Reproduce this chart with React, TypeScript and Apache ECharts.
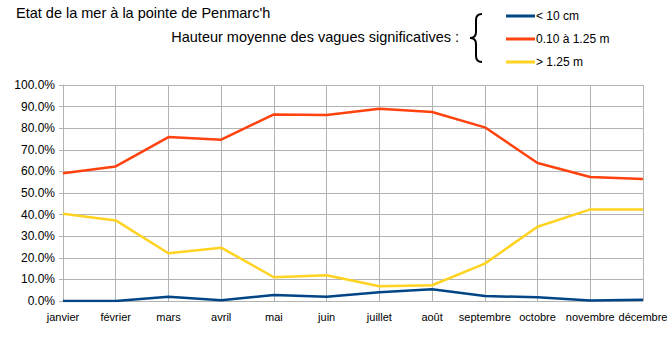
import React, { useEffect, useRef } from "react";
import * as echarts from "echarts";

const months = ["janvier", "février", "mars", "avril", "mai", "juin", "juillet", "août", "septembre", "octobre", "novembre", "décembre"];
const lowWaves = [0.0, 0.0, 2.0, 0.3, 2.8, 2.0, 4.0, 5.4, 2.3, 1.7, 0.2, 0.6];
const midWaves = [59.1, 62.3, 75.9, 74.7, 86.4, 86.1, 89.0, 87.5, 80.4, 63.9, 57.4, 56.5];
const highWaves = [40.4, 37.3, 22.1, 24.7, 11.0, 11.9, 6.8, 7.3, 17.3, 34.4, 42.4, 42.4];
const seriesNames = ["< 10 cm", "0.10 à 1.25 m", "> 1.25 m"];
const colors = ["#004586", "#ff420e", "#ffd320"];

const FONT = "'Liberation Sans', Arial, sans-serif";

export default function App() {
  const ref = useRef<HTMLDivElement>(null);
  useEffect(() => {
    if (!ref.current) return;
    echarts.graphic.registerShape(
      "brace",
      echarts.graphic.extendPath(
        "M12,0 C8,0 6,2 6,6 L6,18 C6,22 4,24 0,24 C4,24 6,26 6,30 L6,42 C6,46 8,48 12,48",
        {}
      )
    );
    const chart = echarts.init(ref.current, null, { renderer: "svg" });
    const data = [lowWaves, midWaves, highWaves];
    chart.setOption({
      animation: false,
      backgroundColor: "#ffffff",
      textStyle: { fontFamily: FONT, color: "#000" },
      title: [
        {
          text: "Etat de la mer à la pointe de Penmarc'h",
          left: 16,
          top: 5,
          padding: 0,
          textStyle: { fontSize: 14.5, fontWeight: "normal", color: "#000", fontFamily: FONT },
        },
        {
          text: "Hauteur moyenne des vagues significatives :",
          right: 213,
          top: 29,
          padding: 0,
          textStyle: { fontSize: 14.5, fontWeight: "normal", color: "#000", fontFamily: FONT },
        },
      ],
      legend: {
        orient: "vertical",
        left: 506,
        top: 9,
        icon: "rect",
        itemWidth: 29,
        itemHeight: 3,
        itemGap: 9,
        padding: 0,
        textStyle: { fontSize: 12, color: "#000", fontFamily: FONT, padding: [0, 0, 0, -4], lineHeight: 14 },
        data: seriesNames,
      },
      graphic: [
        {
          type: "brace",
          x: 470,
          y: 14,
          style: { stroke: "#000", lineWidth: 2, fill: "none" },
        },
      ],
      grid: { left: 63, right: 29, top: 85, bottom: 59 },
      xAxis: {
        type: "category",
        data: months,
        boundaryGap: false,
        axisLine: { lineStyle: { color: "#b3b3b3" } },
        axisTick: { show: false },
        axisLabel: { color: "#000", fontSize: 11, fontFamily: FONT, margin: 10, interval: 0 },
        splitLine: { show: true, lineStyle: { color: "#b3b3b3", width: 1 } },
      },
      yAxis: {
        type: "value",
        min: 0,
        max: 100,
        interval: 10,
        axisLine: { show: true, lineStyle: { color: "#b3b3b3" } },
        axisTick: { show: true, length: 4, lineStyle: { color: "#b3b3b3" } },
        axisLabel: {
          color: "#000",
          fontSize: 12,
          fontFamily: FONT,
          margin: 8,
          formatter: (v: number) => v.toFixed(1) + "%",
        },
        splitLine: { show: true, lineStyle: { color: "#b3b3b3", width: 1 } },
      },
      series: seriesNames.map((name, i) => ({
        name,
        type: "line",
        data: data[i],
        symbol: "none",
        color: colors[i],
        lineStyle: { color: colors[i], width: 2.5 },
      })),
    });
    return () => chart.dispose();
  }, []);
  return <div ref={ref} style={{ width: 672, height: 360, position: "absolute", left: 0, top: 0 }} />;
}
